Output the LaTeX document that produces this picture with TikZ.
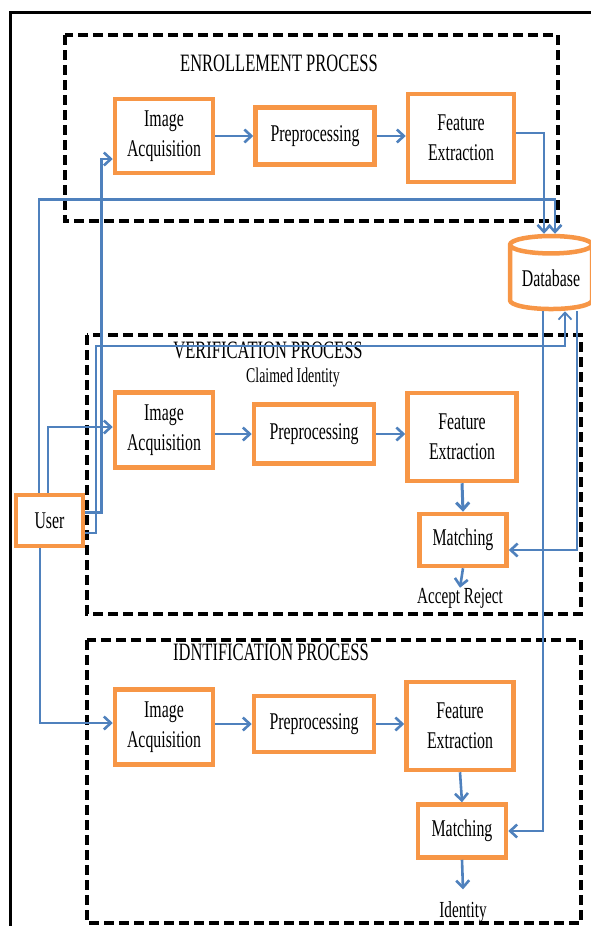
\documentclass[tikz,border=0pt]{standalone}
\usepackage{fontspec}
\setmainfont{Liberation Serif}[FakeStretch=0.66]
\usetikzlibrary{shapes.geometric,arrows.meta}
\definecolor{boxorange}{RGB}{247,150,70}
\definecolor{lineblue}{RGB}{79,129,189}
\tikzset{
	blk/.style={draw=boxorange, line width=4.5pt, fill=white, inner sep=0pt, align=center, font=\fontsize{24}{30}\selectfont},
	procbox/.style={draw=black, line width=3.2pt, dash pattern=on 10pt off 5pt},
	title/.style={inner sep=0pt, font=\fontsize{25}{30}\selectfont},
	link/.style={draw=lineblue, line width=2.6pt, -{Straight Barb[length=7pt,width=13pt]}},
}
\begin{document}
\begin{tikzpicture}[x=1pt,y=-1pt]
				\useasboundingbox (0,0) rectangle (590,926);
				\draw[line width=2.5pt] (10.5,926) -- (10.5,12.5) -- (592,12.5);
				
				% the three processes
				\draw[procbox] (65,35) rectangle (558,221);
				\draw[procbox] (87,335) rectangle (581,614);
				\draw[procbox] (87,640) rectangle (581,923);
				\node[title] (entitle) at (279,63) {ENROLLEMENT PROCESS};
				\node[title] (vetitle) at (268,350) {VERIFICATION PROCESS};
				\node[title] (idtitle) at (271,652) {IDNTIFICATION PROCESS};
				\node[inner sep=0pt, font=\fontsize{21}{25}\selectfont] (claim) at (293,377) {Claimed Identity};
				
				% enrollment
				\node[blk, minimum width=98pt, minimum height=74pt] (ia1) at (164,136) {Image\\Acquisition};
				\node[blk, minimum width=119pt, minimum height=57pt] (pp1) at (315,136) {Preprocessing};
				\node[blk, minimum width=106pt, minimum height=88pt] (fe1) at (461,138) {Feature\\Extraction};
				
				% verification
				\node[blk, minimum width=98pt, minimum height=75pt] (ia2) at (164,430) {Image\\Acquisition};
				\node[blk, minimum width=120pt, minimum height=59pt] (pp2) at (314,434) {Preprocessing};
				\node[blk, minimum width=109pt, minimum height=88pt] (fe2) at (462,437) {Feature\\Extraction};
				\node[blk, minimum width=87pt, minimum height=52pt] (mt2) at (463,540) {Matching};
				\node[inner sep=0pt, font=\fontsize{23}{28}\selectfont] (acc) at (460,598) {Accept Reject};
				
				% identification
				\node[blk, minimum width=98pt, minimum height=75pt] (ia3) at (164,727) {Image\\Acquisition};
				\node[blk, minimum width=120pt, minimum height=56pt] (pp3) at (314,724) {Preprocessing};
				\node[blk, minimum width=107pt, minimum height=88pt] (fe3) at (460,726) {Feature\\Extraction};
				\node[blk, minimum width=88pt, minimum height=53pt] (mt3) at (462,831) {Matching};
				\node[inner sep=0pt, font=\fontsize{23}{28}\selectfont] (idt) at (463,912) {Identity};
				
				\node[blk, minimum width=67pt, minimum height=51pt] (user) at (49.5,520.5) {User};
				\node[blk, cylinder, shape border rotate=90, aspect=0.3, minimum width=82pt, minimum height=73pt] (db) at (551,278) {Database};
				
				\draw[link] (pp1.east -| ia1.east) -- (pp1.west);
				\draw[link] (pp1.east) -- (pp1.east -| fe1.west);
				\draw[link] (pp2.east -| ia2.east) -- (pp2.west);
				\draw[link] (pp2.east) -- (pp2.east -| fe2.west);
				\draw[link] (pp3.east -| ia3.east) -- (pp3.west);
				\draw[link] (pp3.east) -- (pp3.east -| fe3.west);
				\draw[link, line width=3pt] (fe2.south) -- (mt2.north);
				\draw[link] (fe3.south) -- (mt3.north);
				\draw[link] (mt2.south) -- (acc.north);
				\draw[link] (mt3.south) -- ([yshift=12pt]idt.north);
				
				\draw[link] ([yshift=5pt]fe1.east) -| ([xshift=-7pt]db.north);
				\draw[link] ([xshift=-10.5pt]user.north) |- ([xshift=4pt,yshift=34pt]db.north) -- ([xshift=4pt]db.north);
				\draw[link] ([yshift=8pt]user.east) -- ++(16pt,0) |- ([yshift=-23pt]ia1.west);
				\draw[link, line width=1.8pt] ([yshift=-12.5pt]user.east) -- ++(11pt,0) |- ([xshift=14pt,yshift=-35pt]db.south) -- ([xshift=14pt]db.south);
				\draw[link] ([xshift=-1.5pt]user.north) |- ([yshift=3pt]ia2.west);
				\draw[link] ([xshift=-9.5pt]user.south) |- ([yshift=4pt]ia3.west);
				\draw[link] ([xshift=26pt]db.south) |- ([yshift=-10pt]mt2.east);
				\draw[link] ([xshift=-8pt]db.south) |- (mt3.east);
			\end{tikzpicture}
\end{document}
